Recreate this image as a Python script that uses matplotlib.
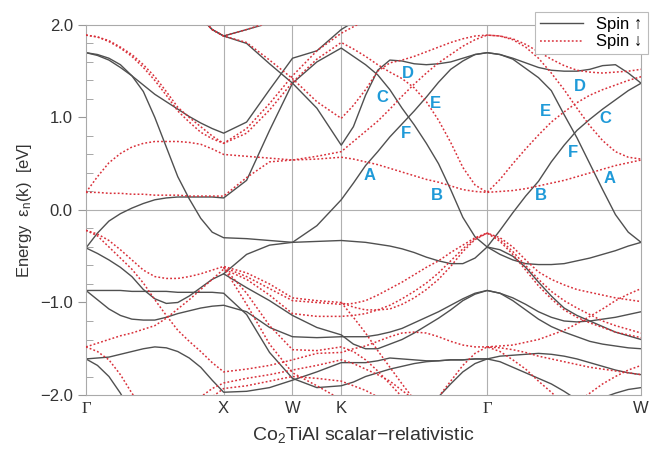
import numpy as np
import matplotlib
matplotlib.use('Agg')
import matplotlib.pyplot as plt
from matplotlib.lines import Line2D

plt.rcParams['font.family'] = ['Liberation Sans', 'DejaVu Sans']
plt.rcParams['mathtext.default'] = 'regular'

n = np.nan

# high symmetry points along the path (2pi/a units)
kpt_names = ['Γ', 'X', 'W', 'K', 'Γ', 'W']
kpts = [0.0, 1.0, 1.5, 1.854, 2.914, 4.032]
seg_steps = [12, 3, 2, 12, 12]

# band energies in eV on the k grid:
# G-X (13 incl. both ends) | X-W (3) | W-K (2) | K-G (12) | G-W (12)
# spin up
up1 = ([1.70, 1.68, 1.64, 1.57, 1.45, 1.28, 1.00, 0.68, 0.36, 0.12, -0.09, -0.24, -0.30]
       + [-0.31, -0.33, -0.35] + [-0.17, 0.11]
       + [0.29, 0.48, 0.63, 0.79, 0.93, 1.07, 1.22, 1.38, 1.52, 1.61, 1.68, 1.70]
       + [1.68, 1.64, 1.59, 1.54, 1.51, 1.50, 1.50, 1.52, 1.56, 1.57, 1.48, 1.37])
up2 = ([1.70, 1.67, 1.62, 1.54, 1.45, 1.35, 1.25, 1.17, 1.09, 1.01, 0.94, 0.88, 0.83]
       + [0.95, 1.30, 1.64] + [1.72, 1.95]
       + [2.03, 2.10, 2.18, 2.25] + [n] * 8
       + [n] * 12)
up3 = ([-0.41, -0.25, -0.12, -0.04, 0.02, 0.07, 0.11, 0.13, 0.14, 0.14, 0.14, 0.14, 0.13]
       + [0.32, 0.86, 1.37] + [1.60, 1.75]
       + [1.66, 1.57, 1.46, 1.30, 1.10, 0.92, 0.72, 0.50, 0.22, -0.08, -0.29, -0.40]
       + [-0.22, -0.03, 0.15, 0.31, 0.52, 0.70, 0.86, 0.98, 1.09, 1.19, 1.29, 1.37])
up4 = ([n] * 9 + [2.25, 2.08, 1.95, 1.88]
       + [1.80, 1.58, 1.37] + [1.10, 0.70]
       + [0.90, 1.24, 1.51, 1.62, 1.61, 1.58, 1.57, 1.58, 1.60, 1.64, 1.68, 1.70]
       + [1.68, 1.63, 1.53, 1.43, 1.29, 1.03, 0.78, 0.50, 0.22, -0.05, -0.24, -0.35])
up5 = ([n] * 9 + [2.25, 2.08, 1.95, 1.88]
       + [1.95, 2.02, 2.10] + [n, n]
       + [n] * 12 + [n] * 12)
up6 = ([n] * 12 + [-0.69]
       + [-0.48, -0.38, -0.35] + [-0.34, -0.33]
       + [-0.34, -0.35, -0.37, -0.39, -0.42, -0.46, -0.51, -0.55, -0.58, -0.58, -0.52, -0.40]
       + [-0.48, -0.54, -0.58, -0.59, -0.59, -0.58, -0.55, -0.52, -0.48, -0.44, -0.39, -0.35])
up7 = ([-0.41, -0.47, -0.54, -0.62, -0.72, -0.86, -0.96, -1.01, -1.00, -0.93, -0.84, -0.75, -0.69]
       + [-0.84, -0.98, -1.14] + [-1.27, -1.35]
       + [-1.45, -1.50, -1.50, -1.45, -1.40, -1.33, -1.25, -1.17, -1.08, -0.98, -0.91, -0.87]
       + [-0.90, -0.95, -1.02, -1.10, -1.16, -1.20, -1.21, -1.20, -1.18, -1.16, -1.13, -1.10])
up8 = ([-0.87, -0.87, -0.87, -0.87, -0.88, -0.88, -0.88, -0.88, -0.89, -0.89, -0.89, -0.89, -0.90]
       + [-1.13, -1.54, -1.82] + [-1.92, -1.90]
       + [-1.86, -1.80, -1.76, -1.72, -1.69, -1.66, -1.64, -1.63, -1.62, -1.62, -1.61, -1.61]
       + [-1.58, -1.57, -1.56, -1.55, -1.56, -1.58, -1.61, -1.65, -1.69, -1.73, -1.76, -1.78])
up9 = ([-0.87, -0.97, -1.07, -1.14, -1.18, -1.19, -1.19, -1.16, -1.12, -1.09, -1.06, -1.04, -1.03]
       + [-1.10, -1.27, -1.37] + [-1.38, -1.37]
       + [-1.37, -1.37, -1.35, -1.32, -1.28, -1.22, -1.16, -1.10, -1.03, -0.96, -0.90, -0.87]
       + [-0.90, -0.98, -1.08, -1.18, -1.26, -1.32, -1.37, -1.42, -1.45, -1.47, -1.49, -1.50])
up10 = ([-1.61, -1.60, -1.59, -1.56, -1.53, -1.50, -1.48, -1.49, -1.53, -1.60, -1.70, -1.84, -1.97]
        + [-1.96, -1.92, -1.84] + [-1.75, -1.65]
        + [-1.65, -1.65, -1.63, -1.60, -1.61, -1.62, -1.63, -1.63, -1.62, -1.62, -1.61, -1.61]
        + [-1.64, -1.70, -1.76, -1.82, -1.88, -1.96, -2.05, -2.15, -2.30, n, n, n])
up11 = ([-1.61, -1.68, -1.80, -1.98, -2.20, -2.40] + [n] * 7
        + [n] * 3 + [n] * 2
        + [n] * 4 + [-2.50, -2.30, -2.15, -2.02, -1.88, -1.75, -1.66, -1.61]
        + [n] * 12)
up12 = ([n] * 13 + [n] * 3 + [n] * 2
        + [n] * 11 + [-0.40]
        + [-0.43, -0.50, -0.62, -0.78, -0.93, -1.06, -1.14, -1.20, -1.26, -1.32, -1.36, -1.40])
up13 = ([n] * 13 + [n] * 3 + [n] * 2 + [n] * 12
        + [n] * 4 + [-2.40, -2.30, -2.20, -2.10, -2.03, -1.98, -1.94, -1.92])

# spin down
dn1 = ([1.89, 1.87, 1.83, 1.76, 1.68, 1.57, 1.44, 1.28, 1.11, 1.00, 0.90, 0.80, 0.72]
       + [0.88, 1.15, 1.45] + [1.72, 1.91]
       + [1.98, 2.05, 2.12, 2.20] + [n] * 8
       + [n] * 12)
dn2 = ([1.89, 1.87, 1.82, 1.75, 1.66, 1.54, 1.40, 1.24, 1.07, 0.95, 0.84, 0.77, 0.72]
       + [0.83, 1.08, 1.38] + [1.63, 1.81]
       + [1.74, 1.66, 1.57, 1.49, 1.42, 1.32, 1.17, 0.97, 0.73, 0.46, 0.27, 0.19]
       + [0.20, 0.21, 0.23, 0.26, 0.29, 0.32, 0.36, 0.40, 0.44, 0.48, 0.51, 0.54])
dn3 = ([n] * 9 + [2.25, 2.08, 1.95, 1.88]
       + [1.81, 1.62, 1.42] + [1.17, 0.99]
       + [1.13, 1.30, 1.50, 1.59, 1.62, 1.66, 1.71, 1.76, 1.81, 1.85, 1.88, 1.89]
       + [1.88, 1.85, 1.79, 1.71, 1.63, 1.56, 1.51, 1.49, 1.48, 1.49, 1.50, 1.52])
dn4 = ([0.19, 0.36, 0.51, 0.61, 0.68, 0.72, 0.74, 0.74, 0.74, 0.73, 0.71, 0.66, 0.60]
       + [0.58, 0.56, 0.54] + [0.55, 0.57]
       + [0.55, 0.52, 0.49, 0.45, 0.41, 0.37, 0.33, 0.30, 0.26, 0.22, 0.20, 0.19]
       + [0.33, 0.50, 0.66, 0.81, 0.95, 1.06, 1.16, 1.24, 1.30, 1.35, 1.40, 1.44])
dn5 = ([0.19, 0.19, 0.18, 0.18, 0.17, 0.17, 0.16, 0.16, 0.16, 0.15, 0.15, 0.15, 0.15]
       + [0.35, 0.52, 0.54] + [0.58, 0.63]
       + [0.74, 0.85, 0.96, 1.09, 1.23, 1.36, 1.48, 1.59, 1.68, 1.77, 1.84, 1.89]
       + [1.88, 1.84, 1.76, 1.64, 1.48, 1.30, 1.10, 0.91, 0.75, 0.63, 0.57, 0.55])
dn6 = ([n] * 9 + [2.25, 2.08, 1.95, 1.88]
       + [1.95, 2.03, 2.10] + [n, n]
       + [n] * 12 + [n] * 12)
dn7 = ([-0.22, -0.28, -0.40, -0.52, -0.64, -0.79, -0.97, -1.14, -1.30, -1.42, -1.53, -1.65, -1.75]
       + [-1.72, -1.68, -1.62] + [-1.55, -1.54]
       + [-1.50, -1.47, -1.42, -1.37, -1.33, -1.32, -1.33, -1.37, -1.42, -1.46, -1.48, -1.48]
       + [-1.49, -1.51, -1.54, -1.58, -1.61, -1.64, -1.67, -1.70, -1.72, -1.74, -1.76, -1.78])
dn8 = ([-0.22, -0.26, -0.33, -0.43, -0.54, -0.65, -0.72, -0.74, -0.74, -0.72, -0.69, -0.65, -0.61]
       + [-0.68, -0.80, -0.95] + [-0.98, -1.00]
       + [-1.05, -1.08, -1.08, -1.07, -1.02, -0.95, -0.86, -0.75, -0.61, -0.45, -0.32, -0.25]
       + [-0.30, -0.40, -0.54, -0.67, -0.75, -0.81, -0.86, -0.89, -0.92, -0.95, -0.97, -0.99])
dn9 = ([-1.48, -1.44, -1.40, -1.36, -1.33, -1.29, -1.25, -1.17, -1.07, -0.97, -0.86, -0.75, -0.64]
       + [-0.75, -0.92, -1.12] + [-1.15, -1.15]
       + [-1.14, -1.12, -1.08, -1.03, -0.96, -0.88, -0.79, -0.68, -0.55, -0.42, -0.31, -0.25]
       + [-0.32, -0.45, -0.60, -0.75, -0.88, -0.98, -1.06, -1.13, -1.20, -1.25, -1.29, -1.33])
dn10 = ([-1.48, -1.53, -1.62, -1.78, -1.98, -2.15, -2.30, -2.35, -2.30, -2.15, -2.02, -1.93, -1.87]
        + [-1.82, -1.78, -1.73] + [-1.68, -1.62]
        + [-1.66, -1.72, -1.78, -1.85, -1.95, -2.05, -2.20, -2.30, n, n, n, n]
        + [n] * 12)
dn11 = ([n] * 9 + [-2.30, -2.15, -2.02, -1.93]
        + [-1.90, -1.85, -1.80] + [-1.82, -1.85]
        + [-1.90, -1.95, -2.02, -2.10, -2.15, -2.20, -2.15, -2.02, -1.85, -1.68, -1.55, -1.48]
        + [-1.53, -1.62, -1.72, -1.85, -1.97, -2.10, -2.25, n, n, n, n, n])
dn12 = ([n] * 12 + [-0.62]
        + [-0.72, -0.85, -0.98] + [-1.00, -1.02]
        + [-1.01, -0.98, -0.92, -0.85, -0.78, -0.70, -0.62, -0.55, -0.46, -0.38, -0.30, -0.25]
        + [-0.34, -0.48, -0.65, -0.82, -0.96, -1.08, -1.16, -1.22, -1.27, -1.32, -1.35, -1.38])
dn13 = ([n] * 12 + [-0.62]
        + [-0.90, -1.25, -1.51] + [-1.52, -1.48]
        + [-1.53, -1.62, -1.74, -1.88, -2.02, -2.15, -2.30, n, n, n, n, n]
        + [n] * 12)
dn14 = ([n] * 12 + [-0.62]
        + [-1.02, -1.45, -1.76] + [-1.90, -2.05]
        + [n] * 12 + [n] * 12)
dn15 = ([n] * 13 + [n] * 3 + [n, -1.00]
        + [-1.16, -1.33, -1.52, -1.70, -1.88, -2.05, -2.20, n, n, n, n, n]
        + [n] * 12)
dn16 = ([n] * 13 + [n] * 3 + [n] * 2
        + [n] * 11 + [-1.48]
        + [-1.47, -1.46, -1.43, -1.40, -1.35, -1.30, -1.23, -1.15, -1.07, -0.98, -0.91, -0.85])
dn17 = ([n] * 13 + [n] * 3 + [n] * 2 + [n] * 12
        + [n] * 5 + [-2.20, -2.08, -1.98, -1.88, -1.80, -1.73, -1.68])

spin_up = [up1, up2, up3, up4, up5, up6, up7, up8, up9, up10, up11, up12, up13]
spin_dn = [dn1, dn2, dn3, dn4, dn5, dn6, dn7, dn8, dn9, dn10, dn11, dn12, dn13,
           dn14, dn15, dn16, dn17]

# crossing labels
mark_text = ['D', 'C', 'E', 'F', 'A', 'B', 'D', 'E', 'C', 'F', 'A', 'B']
mark_k = [2.340, 2.152, 2.536, 2.326, 2.057, 2.551, 3.589, 3.335, 3.771, 3.538, 3.800, 3.306]
mark_e = [1.47, 1.22, 1.15, 0.83, 0.37, 0.16, 1.33, 1.06, 0.99, 0.62, 0.34, 0.16]

kgrid = [kpts[0]]
for i, steps in enumerate(seg_steps):
    kgrid += list(np.linspace(kpts[i], kpts[i + 1], steps + 1)[1:])
kgrid = np.array(kgrid)
for band in spin_up + spin_dn:
    assert len(band) == len(kgrid)

fig = plt.figure(figsize=(6.64, 4.53), dpi=100)
ax = fig.add_axes([0.1295, 0.128, 0.836, 0.817])

for kp in kpts[1:-1]:
    ax.axvline(kp, color='#b0b0b0', lw=0.8, zorder=1)
ax.axhline(0, color='#b0b0b0', lw=0.8, zorder=1)

for band in spin_up:
    ax.plot(kgrid, band, color='#505050', lw=1.0, zorder=2)
for band in spin_dn:
    ax.plot(kgrid, band, color='#d9303a', lw=1.1, ls=(0, (1.2, 1.4)), zorder=3)

for t, kx, e in zip(mark_text, mark_k, mark_e):
    ax.text(kx, e, t, color='#1f9ad8', fontsize=12, fontweight='bold',
            ha='center', va='center', zorder=4)

ax.set_xlim(kpts[0], kpts[-1])
ax.set_ylim(-2.0, 2.0)
ax.set_xticks(kpts)
ax.set_xticklabels(kpt_names, fontsize=12)
for lab in ax.get_xticklabels():
    if lab.get_text() == 'Γ':
        lab.set_family(['Liberation Serif', 'DejaVu Serif'])
ax.tick_params(axis='x', length=0, pad=4, colors='#333333')
ax.set_yticks([-2, -1, 0, 1, 2])
ax.set_yticklabels(['−2.0', '−1.0', '0.0', '1.0', '2.0'], fontsize=12)
ax.set_yticks(np.arange(-2, 2.01, 0.2), minor=True)
ax.tick_params(axis='y', which='major', direction='out', length=6, color='#999999',
               labelcolor='#333333')
ax.tick_params(axis='y', which='minor', direction='in', length=5, color='#999999')
for sp in ax.spines.values():
    sp.set_color('#aaaaaa')
    sp.set_linewidth(0.8)

ax.set_ylabel(r'Energy  $\varepsilon_n$(k)  [eV]', fontsize=12, color='#333333')
ax.set_xlabel(r'Co$_2$TiAl scalar$-$relativistic', fontsize=14, color='#333333', labelpad=6)

handles = [Line2D([], [], color='#505050', lw=1.0),
           Line2D([], [], color='#d9303a', lw=1.1, ls=(0, (1.2, 1.4)))]
leg = fig.legend(handles, ['Spin ↑', 'Spin ↓'], loc='upper right',
                 bbox_to_anchor=(0.988, 0.992), fontsize=12, fancybox=False,
                 edgecolor='#bbbbbb', framealpha=1, handlelength=2.6,
                 borderpad=0.3, labelspacing=0.15)
leg.get_frame().set_linewidth(0.8)

fig.savefig('out.png', dpi=100)
